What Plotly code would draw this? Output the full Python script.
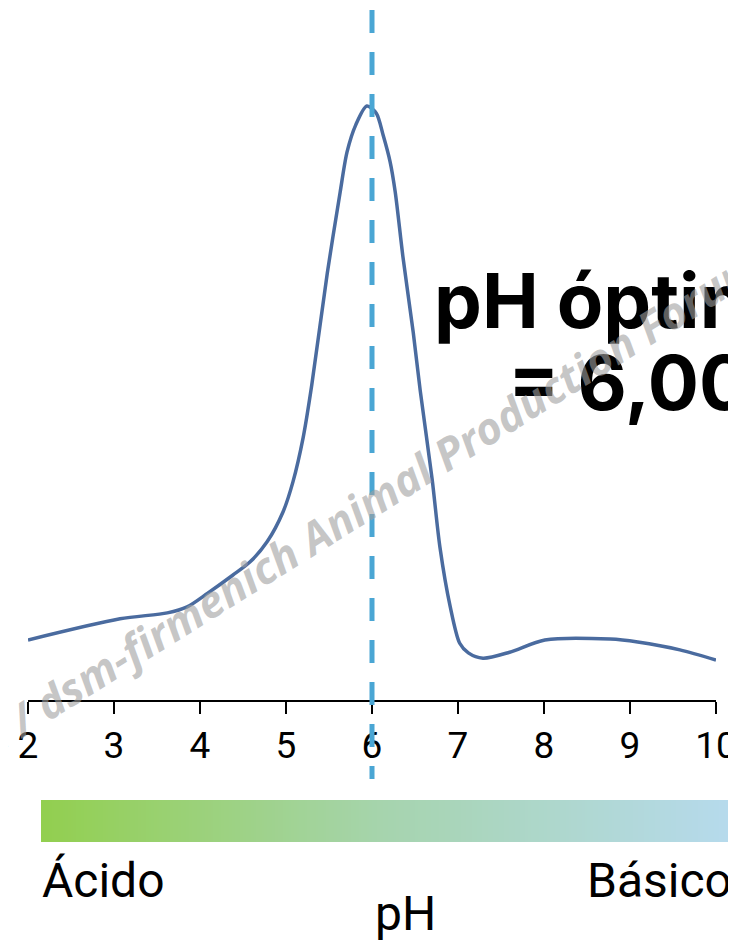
import plotly.graph_objects as go

# ---- data ----
ph = [2.0, 3.07, 3.62, 3.85, 4.09, 4.38, 4.58, 4.78, 4.965, 5.08, 5.20, 5.30, 5.48,
      5.63, 5.71, 5.81, 5.94, 6.05, 6.13, 6.21, 6.27, 6.36, 6.48, 6.56, 6.70, 6.79, 6.91, 7.02,
      7.12, 7.29, 7.60, 8.01, 8.77, 9.09, 9.58, 10.0]
activity = [10.05, 13.6, 14.6, 15.6, 17.9, 20.9, 23.1, 26.5, 31.5, 36.5, 44.0, 52.8, 71.5,
            85.1, 91.8, 96.3, 99.5, 98.3, 94.6, 90.2, 85.1, 74.2, 61.5, 51.9, 36.9, 25.6, 15.6, 9.5,
            7.9, 7.0, 8.0, 10.05, 10.2, 9.7, 8.4, 6.7]
tick_vals = [2, 3, 4, 5, 6, 7, 8, 9, 10]
optimum_ph = 6
gradient_colors = ["#92CF4F", "#A6D4AE", "#B6DAEC"]
watermark = "n / dsm-firmenich Animal Production Forum"

# the page body has an 8px margin: figure is drawn 8px right/down of the window corner
OFF = 8
W, H = 736 - OFF, 944 - OFF
ML, MR, MT, MB = 28 - OFF, 6, 10 - OFF, 102
PW = W - ML - MR
PH = H - MT - MB


def px(xr):
    """window x-pixel -> paper fraction"""
    return (xr - OFF - ML) / PW


def py(yr):
    """window y-pixel -> paper fraction"""
    return (H - MB - (yr - OFF)) / PH


fig = go.Figure()

fig.add_trace(go.Scatter(
    x=ph, y=activity, mode="lines",
    line=dict(color="#4A6B9F", width=3.5, shape="spline", smoothing=0.8),
    hoverinfo="skip", xaxis="x", yaxis="y"))

# gradient bar
n = 256
fig.add_trace(go.Heatmap(
    z=[list(range(n))], x=list(range(n)), y=[0],
    colorscale=[[0, gradient_colors[0]], [0.5, gradient_colors[1]], [1, gradient_colors[2]]],
    showscale=False, hoverinfo="skip", xaxis="x2", yaxis="y2"))

font_main = "Roboto, Arial, sans-serif"

fig.update_layout(
    width=W, height=H,
    margin=dict(l=ML, r=MR, t=MT, b=MB, autoexpand=False),
    paper_bgcolor="white", plot_bgcolor="white",
    showlegend=False,
    xaxis=dict(domain=[0, px(716)], range=[2, 10], tickvals=tick_vals,
               showgrid=False, zeroline=False, showline=True, linecolor="black", linewidth=2,
               ticks="outside", ticklen=12, tickwidth=2, tickcolor="black",
               tickfont=dict(family=font_main, size=37, color="black"),
               ticklabeloverflow="allow", anchor="y"),
    yaxis=dict(domain=[py(700), 1], range=[0, (700 - 10) / 5.97], visible=False,
               showgrid=False, zeroline=False),
    xaxis2=dict(domain=[px(41), 1], range=[-0.5, n - 0.5], visible=False, anchor="y2"),
    yaxis2=dict(domain=[0, py(800)], range=[-0.5, 0.5], visible=False, anchor="x2"),
)

# dashed optimum line
fig.add_shape(type="line", xref="x", yref="paper", x0=optimum_ph, x1=optimum_ph,
              y0=1, y1=py(779), line=dict(color="#4AA6D4", width=5, dash="23px,19px"),
              layer="above")

ann_font_bold = dict(family="Inter, Lato, sans-serif", size=76, color="black", weight="bold")
fig.add_annotation(xref="paper", yref="paper", x=px(432), y=py(300), xanchor="left", yanchor="middle",
                   text="pH óptimo", showarrow=False, font=ann_font_bold)
fig.add_annotation(xref="paper", yref="paper", x=px(506), y=py(382), xanchor="left", yanchor="middle",
                   text="= 6,00", showarrow=False, font=ann_font_bold)

lab_font = dict(family=font_main, size=48, color="black")
fig.add_annotation(xref="paper", yref="paper", x=px(40), y=py(880), xanchor="left", yanchor="middle",
                   text="Ácido", showarrow=False, font=lab_font)
fig.add_annotation(xref="paper", yref="paper", x=px(734), y=py(880), xanchor="right", yanchor="middle",
                   text="Básico", showarrow=False, font=lab_font)
fig.add_annotation(xref="paper", yref="paper", x=px(405), y=py(914), xanchor="center", yanchor="middle",
                   text="pH", showarrow=False, font=lab_font)

# watermark
fig.add_annotation(xref="paper", yref="paper", x=px(368), y=py(502), xanchor="center", yanchor="middle",
                   text="<i>" + watermark + "</i>", textangle=-32, showarrow=False,
                   font=dict(family="Open Sans, sans-serif", size=44, color="rgba(160,160,160,0.6)",
                             weight="bold"))

fig.write_html("out.html")
